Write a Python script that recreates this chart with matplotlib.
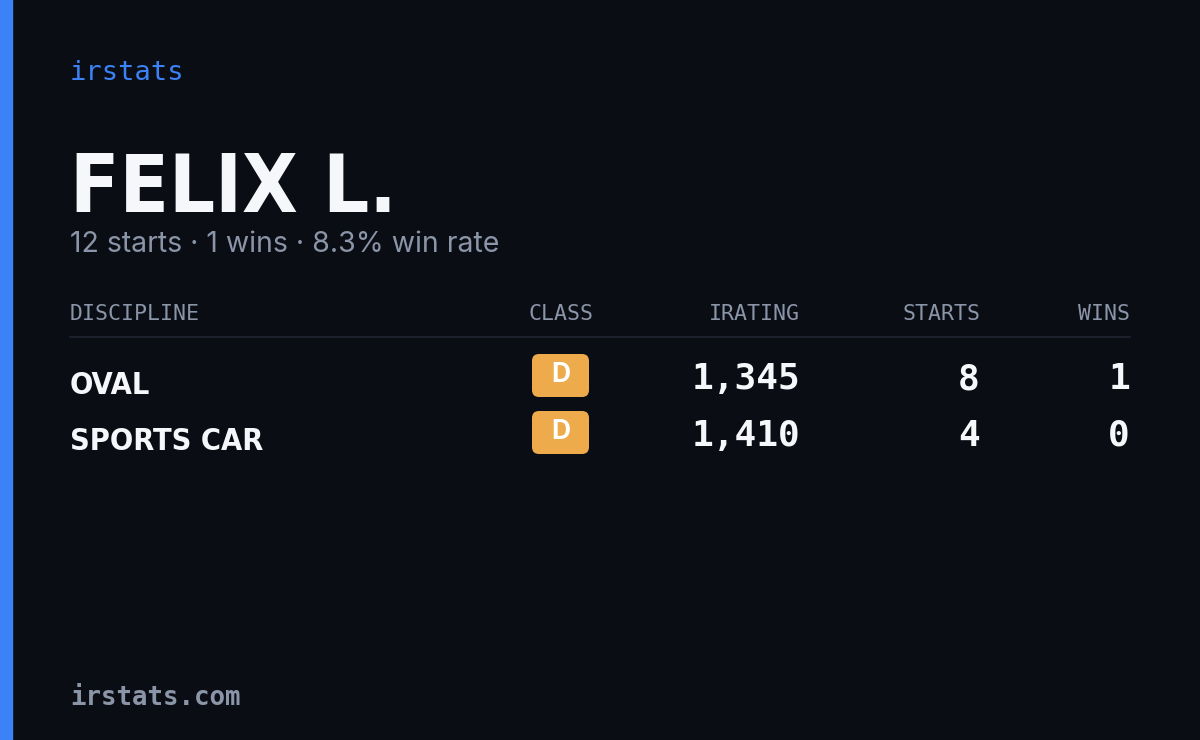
import matplotlib
matplotlib.use("Agg")
import matplotlib.pyplot as plt
from matplotlib.patches import FancyBboxPatch, Rectangle
from matplotlib import font_manager

driver = "FELIX L."
total_starts = 12
total_wins = 1
win_rate = 8.3
disciplines = ["OVAL", "SPORTS CAR"]
classes = ["D", "D"]
iratings = [1345, 1410]
starts = [8, 4]
wins = [1, 0]
headers = ["DISCIPLINE", "CLASS", "IRATING", "STARTS", "WINS"]

names = {f.name for f in font_manager.fontManager.ttflist}
cond = "DejaVu Sans"
mono = "DejaVu Sans Mono"
sans = "Inter" if "Inter" in names else "DejaVu Sans"

W, H = 1200, 740
fig = plt.figure(figsize=(12, 7.4), dpi=100)
fig.patch.set_facecolor("#0a0d14")
ax = fig.add_axes([0, 0, 1, 1])
ax.set_xlim(0, W); ax.set_ylim(H, 0); ax.axis("off")

ax.add_patch(Rectangle((0, 0), 12, H, color="#3b82f6"))
gray = "#8b95a8"
ax.text(70, 73, "irstats", color="#3b82f6", fontsize=19.5, family=mono, va="center")
ax.text(70, 212, driver, color="#f5f7fa", fontsize=58, family=cond, stretch="condensed",
        weight="bold", va="baseline")
ax.text(70, 245, f"{total_starts} starts · {total_wins} wins · {win_rate}% win rate",
        color=gray, fontsize=20.5, family=sans, va="center")

hx = [70, 593, 800, 980, 1130]
ha = ["left", "right", "right", "right", "right"]
for h, x, a in zip(headers, hx, ha):
    ax.text(x, 314, h, color=gray, fontsize=15.5, family=mono, ha=a, va="center")
ax.plot([70, 1130], [337, 337], color="#1f2531", lw=1.2)

ys = [384, 441]
for i, y in enumerate(ys):
    ax.text(70, y + 1, disciplines[i], color="#f5f7fa", fontsize=22, family=cond, stretch="condensed",
            weight="bold", va="center")
    ax.add_patch(FancyBboxPatch((532, y - 30), 57, 43, boxstyle="round,pad=0,rounding_size=7",
                                color="#eeab4b", lw=0))
    ax.text(560.5, y - 9, classes[i], color="white", fontsize=19, family=sans, weight="bold",
            ha="center", va="center")
    for x, v in [(800, f"{iratings[i]:,}"), (980, str(starts[i])), (1130, str(wins[i]))]:
        ax.text(x, y - 5, v, color="#f5f7fa", fontsize=26, family=mono, weight="bold",
                ha="right", va="center")

ax.text(70, 698, "irstats.com", color=gray, fontsize=18.5, family=mono, weight="bold", va="center")
fig.savefig("out.png", dpi=100, facecolor=fig.get_facecolor())
